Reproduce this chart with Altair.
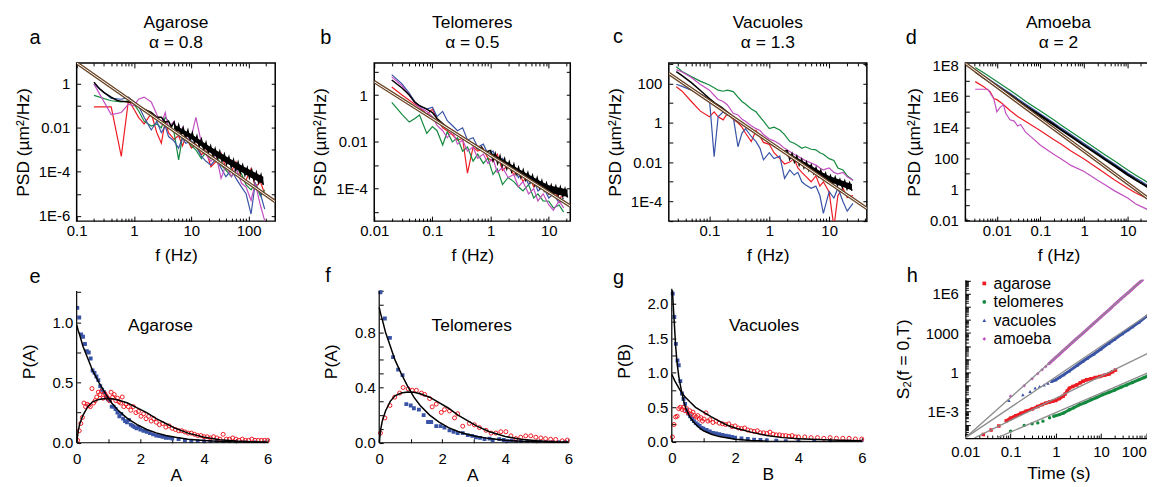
import math
import altair as alt
import pandas as pd

FONT = "Liberation Sans"
RED = "#ed1c24"
GREEN = "#13893e"
BLUE = "#3953a6"
MAGENTA = "#c24fc0"
BROWN = "#6b4627"
GRAY = "#8c8c8c"

SERIES = ["red", "green", "blue", "magenta"]
SERIES_COLORS = [RED, GREEN, BLUE, MAGENTA]

# ---------------- (a) Agarose PSD ----------------
A_F = [0.2, 0.4, 0.6, 0.8, 1, 1.2, 1.5, 2, 2.5, 3, 3.5, 4, 5, 6, 7, 8, 10, 12, 15, 18,
       22, 27, 33, 40, 50, 60, 75, 90, 110, 130, 160, 190]
A_RED = [0.09, 0.09, 5e-4, 0.18, 0.07, 0.03, 0.015, 0.045, 0.006, 0.002, 0.02, 0.006, 0.003,
         0.0045, 0.0015, 0.004, 0.0012, 0.0018, 6e-4, 9e-4, 1.7e-4, 3e-4, 6.8e-4, 1.5e-4,
         1e-4, 2.8e-4, 5e-5, 4.2e-5, 1.4e-4, 2e-5, 3.5e-5, 1e-5]
A_GREEN = [0.3, 0.17, 0.15, 0.17, 0.12, 0.06, 0.02, 0.012, 0.015, 0.01, 0.03, 0.02, 0.006,
           3.5e-4, 0.004, 0.0035, 0.0015, 0.001, 4e-4, 8e-4, 4e-4, 6e-4, 2e-4, 1.2e-4, 6e-5,
           1.5e-4, 8e-5, 2.5e-5, 1.5e-5, 3e-5, 8e-6, 1.5e-5]
A_BLUE = [1.0, 0.22, 0.2, 0.25, 0.15, 0.1, 0.03, 0.008, 0.02, 0.006, 0.012, 0.004, 0.0025,
          0.0012, 0.0035, 0.002, 0.0025, 0.0015, 5e-4, 3e-4, 2e-4, 4e-4, 1.5e-4, 6e-5, 1.2e-4,
          5e-5, 2e-5, 1e-5, 1.2e-6, 3e-5, 1e-5, 2e-6]
A_MAGENTA = [1.0, 0.04, 0.05, 0.12, 0.1, 0.2, 0.25, 0.15, 0.04, 0.015, 0.05, 0.01, 0.02, 0.004,
             0.01, 0.003, 0.004, 0.03, 0.002, 6e-4, 3e-4, 6e-4, 5e-5, 2e-4, 6e-5, 1.5e-4, 3e-5,
             2e-5, 5e-6, 3e-5, 3e-6, 6e-7]
A_BLACK_F = [0.2, 0.25, 0.3, 0.4, 0.5, 0.6, 0.8, 1, 1.2, 1.5, 2, 2.5, 3, 3.5, 4, 4.5,
             5, 5.5, 6, 6.6, 7.2, 7.9, 8.7, 9.5, 10.4, 11.4, 12.5, 13.7, 15, 16.5, 18, 19.8,
             21.7, 23.8, 26, 28.5, 31.3, 34.3, 37.6, 41.2, 45.2, 49.5, 54.3, 59.5, 65.3, 71.6,
             78.5, 86, 94.3, 103, 113, 124, 136, 149, 164, 180]
A_BLACK = [1.2, 0.6, 0.4, 0.25, 0.18, 0.16, 0.15, 0.14, 0.1, 0.07, 0.05, 0.03, 0.03, 0.018,
           0.02, 0.011,
           0.018, 0.0062, 0.0135, 0.0047, 0.0102, 0.0035, 0.0078, 0.0027, 0.0059, 0.002,
           0.0042, 0.0014, 0.003, 0.001, 0.0021, 7.2e-4, 0.0015, 5.2e-4, 0.0011, 4e-4, 8.5e-4,
           3e-4, 6.3e-4, 2.2e-4, 4.7e-4, 1.6e-4, 3.5e-4, 1.2e-4, 2.7e-4, 9.3e-5, 2e-4, 7e-5,
           1.5e-4, 5.4e-5, 1.2e-4, 4.2e-5, 9.3e-5, 3.2e-5, 7.2e-5, 2.5e-5]
# dense core of the black high-frequency band (lower / upper edge)
A_BAND_F = [5, 7, 10, 14, 20, 28, 40, 56, 80, 110, 150, 180]
A_BAND_LO = [0.0089, 0.0052, 0.003, 0.0016, 8.1e-4, 4.6e-4, 2.6e-4, 1.5e-4, 8.7e-5, 5.3e-5,
             3.5e-5, 2.7e-5]
A_BAND_HI = [0.0141, 0.0087, 0.0052, 0.0029, 0.00155, 9e-4, 5.1e-4, 3.05e-4, 1.8e-4, 1.14e-4,
             7.6e-5, 5.9e-5]
A_FIT_F = [0.1, 290]
A_FIT = [9, 4.4e-6]

# ---------------- (b) Telomeres PSD ----------------
B_F = [0.02, 0.03, 0.04, 0.05, 0.06, 0.08, 0.1, 0.12, 0.15, 0.18, 0.22, 0.27, 0.33, 0.4, 0.5,
       0.6, 0.75, 0.9, 1.1, 1.3, 1.6, 2, 2.5, 3, 3.6, 4.5, 5.5, 6.5, 8, 10, 12, 15, 18]
B_RED = [2.2, 1.0, 0.6, 0.4, 0.3, 0.15, 0.25, 0.1, 0.04, 0.03, 0.02, 0.012, 0.014, 4.6e-4,
         0.006, 0.004, 0.005, 0.002, 0.0015, 0.003, 6e-4, 0.001, 4e-4, 6e-4, 2e-4, 4e-4,
         1.2e-4, 2e-4, 1e-4, 6e-5, 8e-5, 4e-5, 5e-5]
B_GREEN = [0.49, 0.15, 0.07, 0.1, 0.14, 0.023, 0.045, 0.03, 0.0074, 0.027, 0.01, 0.015, 0.004,
           0.006, 0.0015, 0.003, 0.0012, 0.002, 4e-4, 7e-4, 1.5e-4, 3e-4, 2e-4, 1.2e-4, 8e-5,
           1.5e-4, 4e-5, 6e-5, 3e-5, 2.9e-5, 1.5e-5, 2e-5, 1e-5]
B_BLUE = [7.5, 3, 1.2, 0.5, 0.35, 0.25, 0.3, 0.12, 0.2, 0.08, 0.05, 0.03, 0.04, 0.012, 0.015,
          0.006, 0.008, 0.003, 0.004, 0.0015, 0.002, 8e-4, 0.001, 3e-4, 5e-4, 1.5e-4, 2.5e-4,
          8e-5, 1.2e-4, 4e-5, 6e-5, 2.5e-5, 4e-5]
B_MAGENTA = [6, 2.5, 1, 0.45, 0.3, 0.2, 0.12, 0.05, 0.03, 0.015, 0.03, 0.008, 0.012, 0.004,
             0.006, 0.002, 0.003, 0.0012, 0.002, 5e-4, 8e-4, 3e-4, 4e-4, 1.2e-4, 2e-4, 6e-5,
             1e-4, 3e-5, 6e-5, 2e-5, 1.2e-5, 3e-5, 1.5e-5]
B_BLACK_F = [0.02, 0.03, 0.04, 0.05, 0.06, 0.08, 0.1, 0.12, 0.15, 0.18, 0.22, 0.27, 0.33, 0.4,
             0.5, 0.6, 0.7, 0.8, 0.9,
             1, 1.1, 1.2, 1.32, 1.45, 1.58, 1.74, 1.9, 2.09, 2.29, 2.51, 2.75, 3.02, 3.31, 3.63,
             3.98, 4.37, 4.79, 5.25, 5.75, 6.31, 6.92, 7.59, 8.32, 9.12, 10, 11, 12, 13.2,
             14.5, 15.8, 17.4, 19, 21]
B_BLACK = [4.4, 2, 1, 0.5, 0.35, 0.25, 0.18, 0.1, 0.06, 0.04, 0.03, 0.02, 0.015, 0.01, 0.008,
           0.005, 0.006, 0.0035, 0.004,
           0.0043, 0.0016, 0.0032, 0.0012, 0.0025, 9.3e-4, 0.0019, 7.1e-4, 0.0014, 5.4e-4,
           0.0011, 4.1e-4, 8.1e-4, 3.1e-4, 6.3e-4, 2.4e-4, 4.8e-4, 1.9e-4, 3.7e-4, 1.4e-4,
           2.9e-4, 1.1e-4, 2.2e-4, 8.5e-5, 1.7e-4, 6.6e-5, 1.4e-4, 5.9e-5, 1.26e-4, 5.2e-5,
           1.15e-4, 4.7e-5, 1e-4, 4.2e-5]
B_BAND_F = [1, 2, 3, 5, 7, 10, 14, 21]
B_BAND_LO = [0.0022, 7.8e-4, 4.1e-4, 1.95e-4, 1.17e-4, 7.1e-5, 5.7e-5, 4.4e-5]
B_BAND_HI = [0.0035, 0.0013, 7.1e-4, 3.5e-4, 2.2e-4, 1.4e-4, 1.16e-4, 9.1e-5]
B_FIT_F = [0.01, 23.4]
B_FIT = [3.7, 1.8e-5]

# ---------------- (c) Vacuoles PSD ----------------
C_F = [0.028, 0.035, 0.05, 0.07, 0.1, 0.12, 0.14, 0.17, 0.2, 0.25, 0.3, 0.35, 0.4, 0.5, 0.6,
       0.7, 0.8, 1, 1.2, 1.5, 1.8, 2.2, 2.6, 3, 3.5, 4, 5, 6, 7, 8, 10, 12, 14, 17, 20, 25]
C_RED = [68, 40, 12, 4, 2, 3.6, 2, 1.4, 3, 1.5, 1, 0.6, 0.3, 0.11, 0.4, 0.2, 0.1, 0.08, 0.03,
         0.015, 0.008, 0.01, 0.015, 0.005, 0.003, 0.002, 0.001, 0.002, 6e-4, 0.001, 3e-4,
         5e-6, 2e-4, 4.7e-4, 1.6e-4, 2e-4]
C_GREEN = [700, 400, 220, 130, 83, 60, 45, 40, 45, 38, 20, 12, 9, 5, 3.6, 2, 1.2, 0.5, 0.6,
           0.43, 0.25, 0.11, 0.09, 0.07, 0.05, 0.06, 0.045, 0.042, 0.03, 0.025, 0.015, 0.012,
           0.005, 0.004, 0.002, 0.0012]
C_BLUE = [90, 70, 45, 30, 17, 0.019, 2, 3.6, 2.5, 2, 0.06, 0.3, 0.5, 0.2, 0.11, 0.05, 0.013,
          0.03, 0.015, 0.02, 0.0015, 0.004, 0.0022, 0.003, 0.001, 7e-4, 4.7e-4, 6e-4, 2e-4,
          2.5e-5, 3.2e-4, 1.5e-4, 4.7e-4, 1e-4, 3.2e-5, 8e-5]
C_MAGENTA = [500, 380, 200, 90, 45, 25, 15, 12, 8, 3, 2.5, 1.5, 1.2, 0.7, 0.5, 0.4, 0.25, 0.15,
             0.12, 0.08, 0.05, 0.035, 0.025, 0.02, 0.015, 0.012, 0.009, 0.007, 0.005, 0.004,
             0.005, 0.003, 0.0025, 0.003, 0.0018, 0.0012]
C_BLACK_F = [0.028, 0.035, 0.05, 0.07, 0.1, 0.13, 0.16, 0.2, 0.25, 0.3, 0.4, 0.5, 0.6, 0.8, 1,
             1.2, 1.4, 1.7,
             2, 2.19, 2.4, 2.63, 2.88, 3.16, 3.47, 3.8, 4.17, 4.57, 5.01, 5.5, 6.03, 6.61, 7.24,
             7.94, 8.71, 9.55, 10.5, 11.5, 12.6, 13.8, 15.1, 16.6, 18.2, 19.9, 21.9, 24]
C_BLACK = [400, 250, 110, 45, 17, 9, 6, 3.5, 2, 1.3, 0.7, 0.45, 0.3, 0.16, 0.1, 0.065, 0.05,
           0.035,
           0.038, 0.014, 0.0275, 0.0102, 0.02, 0.0072, 0.014, 0.0052, 0.0102, 0.0038, 0.0072,
           0.0027, 0.0052, 0.0019, 0.0038, 0.0014, 0.0027, 0.001, 0.002, 7.9e-4, 0.0017,
           6.5e-4, 0.0013, 5.2e-4, 0.0011, 4.3e-4, 8.9e-4, 3.5e-4]
C_BAND_F = [2, 3, 5, 7, 10, 14, 20, 24]
C_BAND_LO = [0.02, 0.0093, 0.0037, 0.00195, 0.001, 6.9e-4, 4.5e-4, 3.6e-4]
C_BAND_HI = [0.0316, 0.0155, 0.0065, 0.0035, 0.00195, 0.0014, 9.2e-4, 7.6e-4]
C_FIT_F = [0.021, 42.6]
C_FIT = [320, 4.4e-5]

# ---------------- (d) Amoeba PSD ----------------
D_F = [0.0032, 0.005, 0.01, 0.02, 0.03, 0.05, 0.1, 0.2, 0.3, 0.5, 1, 2, 3, 5, 10, 15, 20, 25, 30]
D_GREEN = [7e7, 3.2e7, 8.8e6, 2.4e6, 1.1e6, 4e5, 1.1e5, 3e4, 1.36e4, 5.2e3, 1.4e3, 370, 170,
           66, 17.5, 8.5, 5.2, 3.6, 2.4]
D_BLUE = [4.9e7, 2.1e7, 5.7e6, 1.56e6, 7e5, 2.6e5, 7.2e4, 1.95e4, 8.8e3, 3.4e3, 900, 242, 110,
          43, 11.3, 5.5, 3.4, 2.3, 1.7]
D_BLACK = [3.8e7, 1.6e7, 4.4e6, 1.2e6, 5.4e5, 2e5, 5.5e4, 1.5e4, 6.8e3, 2.6e3, 690, 186, 85, 33,
           8.7, 4.2, 2.6, 1.8, 1.3]
D_RED_F = [0.0032, 0.005, 0.007, 0.0085, 0.01, 0.013, 0.02, 0.03, 0.05, 0.1, 0.2, 0.3, 0.5, 1,
           2, 3, 5, 10, 15, 20, 25, 30]
D_RED = [8.7e6, 4e6, 2e6, 7e5, 6e5, 3.5e5, 1.2e5, 5e4, 2e4, 6e3, 1.6e3, 800, 300, 90, 24, 11,
         4, 1.2, 0.6, 0.4, 0.3, 0.24]
D_MAGENTA_F = [0.0032, 0.0062, 0.0085, 0.01, 0.012, 0.0142, 0.016, 0.02, 0.025, 0.03, 0.035,
               0.045, 0.06, 0.1, 0.2, 0.3, 0.5, 1, 2, 3, 5, 10, 15, 20, 25, 30]
D_MAGENTA = [2.8e6, 2.8e6, 7e5, 1e5, 2e5, 2.8e5, 8e4, 3e4, 2.5e4, 1.2e4, 1.5e4, 5e3, 2.5e3, 700,
             180, 90, 35, 14, 4, 2, 0.8, 0.28, 0.12, 0.08, 0.06, 0.047]
D_FIT_F = [0.0019, 35]
D_FIT = [1.3e8, 0.18]

# ---------------- (e) Agarose distributions ----------------
E_BLUE_A = [0.02, 0.08, 0.14, 0.2, 0.26, 0.32, 0.38, 0.44, 0.5, 0.56, 0.62, 0.68, 0.74, 0.8,
            0.86, 0.92, 0.98, 1.04, 1.1, 1.16, 1.22, 1.28, 1.34, 1.4, 1.46, 1.52, 1.58, 1.64,
            1.7, 1.76, 1.82, 1.88, 1.94, 2.0, 2.1, 2.2, 2.3, 2.4, 2.5, 2.6, 2.7, 2.8, 2.9, 3.0,
            3.2, 3.4, 3.6, 3.8, 4.0, 4.2, 4.4, 4.6, 4.8, 5.0, 5.3, 5.6, 5.9]
E_BLUE_P = [1.12, 1.04, 0.9, 0.88, 0.82, 0.76, 0.75, 0.7, 0.6, 0.58, 0.55, 0.52, 0.47, 0.44,
            0.42, 0.38, 0.36, 0.35, 0.3, 0.3, 0.28, 0.25, 0.22, 0.24, 0.2, 0.18, 0.17, 0.19,
            0.15, 0.14, 0.13, 0.12, 0.13, 0.11, 0.1, 0.09, 0.08, 0.07, 0.06, 0.055, 0.05, 0.04,
            0.04, 0.035, 0.03, 0.02, 0.015, 0.012, 0.01, 0.008, 0.006, 0.005, 0.004, 0.003,
            0.003, 0.002, 0.002]
E_RED_A = [0.03, 0.08, 0.13, 0.18, 0.23, 0.28, 0.33, 0.38, 0.43, 0.48, 0.53, 0.58, 0.63, 0.68,
           0.73, 0.78, 0.83, 0.88, 0.93, 0.98, 1.03, 1.08, 1.13, 1.18, 1.23, 1.28, 1.33, 1.38,
           1.43, 1.48, 1.55, 1.62, 1.7, 1.78, 1.86, 1.94, 2.02, 2.1, 2.18, 2.26, 2.34, 2.42,
           2.5, 2.6, 2.7, 2.8, 2.9, 3.0, 3.1, 3.2, 3.3, 3.4, 3.5, 3.6, 3.7, 3.8, 3.9, 4.0, 4.1,
           4.2, 4.3, 4.4, 4.5, 4.6, 4.7, 4.8, 4.9, 5.0, 5.1, 5.2, 5.3, 5.4, 5.5, 5.6, 5.7, 5.8,
           5.9, 6.0]
E_RED_P = [0.02, 0.1, 0.16, 0.21, 0.33, 0.3, 0.32, 0.31, 0.3, 0.45, 0.33, 0.35, 0.38, 0.42, 0.4,
           0.43, 0.37, 0.41, 0.39, 0.37, 0.35, 0.42, 0.38, 0.4, 0.35, 0.37, 0.34, 0.33, 0.38,
           0.3, 0.32, 0.3, 0.27, 0.3, 0.25, 0.26, 0.22, 0.24, 0.2, 0.22, 0.18, 0.2, 0.17, 0.15,
           0.16, 0.13, 0.14, 0.12, 0.11, 0.1, 0.1, 0.09, 0.08, 0.08, 0.07, 0.06, 0.06, 0.05,
           0.05, 0.04, 0.05, 0.04, 0.03, 0.07, 0.03, 0.03, 0.04, 0.03, 0.02, 0.03, 0.02, 0.02,
           0.03, 0.02, 0.02, 0.02, 0.02, 0.02]

# theory curves shared by (e) and (f)
TH_A = [0, 0.05, 0.1, 0.2, 0.35, 0.5, 0.7, 0.9, 1.1, 1.3, 1.6, 1.9, 2.2, 2.5, 2.8, 3.1, 3.5, 4,
        4.5, 5, 5.5, 6]
TH_RAYLEIGH = [0, 0.1, 0.16, 0.23, 0.3, 0.34, 0.36, 0.367, 0.365, 0.355, 0.33, 0.29, 0.25, 0.2,
               0.16, 0.12, 0.08, 0.045, 0.025, 0.014, 0.008, 0.005]
TH_EXP = [0.98, 0.93, 0.89, 0.8, 0.7, 0.6, 0.5, 0.41, 0.33, 0.27, 0.2, 0.15, 0.11, 0.082, 0.06,
          0.045, 0.03, 0.018, 0.011, 0.007, 0.004, 0.0025]

# ---------------- (f) Telomeres distributions ----------------
F_BLUE_A = [0.04, 0.18, 0.34, 0.44, 0.6, 0.74, 0.86, 1.0, 1.1, 1.26, 1.41, 1.55, 1.65, 1.81,
            1.95, 2.07, 2.23, 2.36, 2.49, 2.65, 2.81, 2.95, 3.07, 3.2, 3.34, 3.5, 3.6, 3.81,
            3.95, 4.07, 4.2, 4.34, 4.5, 4.7, 4.9, 5.1, 5.3, 5.5, 5.7, 5.9]
F_BLUE_P = [1.09, 0.9, 0.76, 0.62, 0.53, 0.49, 0.28, 0.27, 0.25, 0.24, 0.2, 0.15, 0.15, 0.12,
            0.12, 0.11, 0.09, 0.08, 0.07, 0.07, 0.055, 0.05, 0.04, 0.035, 0.026, 0.03, 0.02,
            0.026, 0.02, 0.012, 0.015, 0.007, 0.01, 0.008, 0.006, 0.007, 0.005, 0.006, 0.004,
            0.005]
F_RED_A = [0.04, 0.18, 0.34, 0.49, 0.65, 0.76, 0.92, 1.05, 1.18, 1.34, 1.44, 1.6, 1.68, 1.81,
           1.97, 2.07, 2.23, 2.39, 2.49, 2.65, 2.86, 3.02, 3.18, 3.39, 3.55, 3.7, 3.86, 4.02,
           4.18, 4.34, 4.49, 4.65, 4.81, 4.97, 5.13, 5.28, 5.44, 5.6, 5.81, 5.97]
F_RED_P = [0.07, 0.18, 0.27, 0.33, 0.36, 0.4, 0.39, 0.38, 0.38, 0.36, 0.35, 0.32, 0.26, 0.28,
           0.22, 0.24, 0.23, 0.18, 0.21, 0.12, 0.14, 0.13, 0.11, 0.09, 0.07, 0.07, 0.08, 0.08,
           0.05, 0.03, 0.04, 0.05, 0.05, 0.04, 0.035, 0.03, 0.025, 0.024, 0.014, 0.019]

# ---------------- (g) Vacuoles distributions ----------------
G_BLUE_B = [0.03, 0.08, 0.13, 0.18, 0.22, 0.27, 0.32, 0.37, 0.42, 0.47, 0.52, 0.58, 0.64, 0.7,
            0.76, 0.82, 0.88, 0.94, 1.0, 1.1, 1.2, 1.3, 1.4, 1.5, 1.6, 1.7, 1.8, 1.9, 2.0, 2.2,
            2.4, 2.6, 2.8, 3.0, 3.3, 3.6, 4.0, 4.5, 5.0, 5.5, 6.0]
G_BLUE_P = [2.15, 1.81, 1.42, 1.18, 1.11, 0.88, 0.7, 0.62, 0.55, 0.46, 0.41, 0.37, 0.33, 0.3,
            0.27, 0.25, 0.23, 0.2, 0.19, 0.17, 0.15, 0.13, 0.12, 0.11, 0.1, 0.09, 0.08, 0.07,
            0.06, 0.05, 0.04, 0.03, 0.025, 0.02, 0.015, 0.01, 0.008, 0.005, 0.004, 0.003, 0.002]
G_RED_B = [0.02, 0.07, 0.12, 0.17, 0.22, 0.27, 0.32, 0.37, 0.42, 0.47, 0.52, 0.57, 0.62, 0.67,
           0.72, 0.77, 0.82, 0.87, 0.92, 0.97, 1.02, 1.08, 1.14, 1.2, 1.3, 1.4, 1.5, 1.6, 1.7,
           1.8, 1.9, 2.0, 2.1, 2.2, 2.3, 2.4, 2.5, 2.6, 2.7, 2.8, 2.9, 3.0, 3.1, 3.2, 3.3, 3.4,
           3.5, 3.6, 3.7, 3.8, 3.9, 4.0, 4.2, 4.4, 4.6, 4.8, 5.0, 5.2, 5.4, 5.6, 5.8, 6.0]
G_RED_P = [0.07, 0.25, 0.36, 0.37, 0.48, 0.5, 0.47, 0.5, 0.45, 0.48, 0.42, 0.45, 0.4, 0.43,
           0.38, 0.36, 0.38, 0.33, 0.35, 0.3, 0.33, 0.42, 0.3, 0.32, 0.28, 0.3, 0.27, 0.26,
           0.25, 0.26, 0.22, 0.23, 0.2, 0.19, 0.2, 0.17, 0.16, 0.15, 0.16, 0.13, 0.13, 0.12,
           0.14, 0.11, 0.1, 0.1, 0.09, 0.09, 0.08, 0.09, 0.07, 0.07, 0.07, 0.06, 0.06, 0.05,
           0.06, 0.05, 0.05, 0.05, 0.04, 0.04]
G_STEEP_B = [0.02, 0.05, 0.08, 0.12, 0.16, 0.22, 0.3, 0.37, 0.45, 0.57, 0.7, 0.85, 1.0, 1.25,
             1.5, 2.0, 2.5, 3.0, 4.0, 5.0, 6.0]
G_STEEP_P = [2.2, 1.95, 1.72, 1.4, 1.18, 0.95, 0.75, 0.6, 0.48, 0.36, 0.28, 0.21, 0.16, 0.11,
             0.075, 0.035, 0.018, 0.009, 0.003, 0.001, 0.0005]
G_SLOW_B = [0, 0.1, 0.26, 0.4, 0.57, 0.75, 1.0, 1.25, 1.5, 1.75, 2.0, 2.5, 3.0, 3.5, 4.0, 5.0,
            6.0]
G_SLOW_P = [0.98, 0.88, 0.75, 0.66, 0.58, 0.5, 0.43, 0.36, 0.3, 0.24, 0.2, 0.14, 0.09, 0.06,
            0.045, 0.025, 0.015]

# ---------------- (h) S2(f=0,T) ----------------
H_NAMES = ["agarose", "telomeres", "vacuoles", "amoeba"]
H_SHAPES = ["square", "circle", "triangle-up", "diamond"]
H_AGAROSE_T = [0.025, 0.037, 0.055, 0.08, 0.1, 0.13, 0.17, 0.22, 0.3, 0.4, 0.5, 0.6, 0.73, 0.85,
               1.0, 1.2, 1.45, 1.6, 1.8, 2.0, 2.4, 2.9, 3.5, 4, 4.8, 6, 7.5, 9.4, 12, 15, 18, 21]
H_AGAROSE = [1.8e-5, 4e-5, 8e-5, 2e-4, 3.2e-4, 5e-4, 7.5e-4, 0.0011, 0.0016, 0.0025, 0.0035,
             0.0045, 0.0055, 0.0063, 0.0072, 0.01, 0.015, 0.022, 0.038, 0.063, 0.085, 0.11,
             0.16, 0.21, 0.27, 0.33, 0.4, 0.48, 0.6, 0.75, 1.1, 1.5]
H_TELOMERES_T = [0.1, 0.2, 0.3, 0.4, 0.52, 0.73, 0.9, 1.2, 1.5, 2, 2.5, 3.4, 4.5, 6, 8, 11, 15,
                 20, 28, 37, 50, 70, 90, 110, 120, 128]
H_TELOMERES = [3.3e-5, 9e-5, 1.2e-4, 1.4e-4, 1.9e-4, 3.4e-4, 4.5e-4, 6e-4, 8e-4, 0.0014, 0.002,
               0.0035, 0.005, 0.008, 0.012, 0.02, 0.03, 0.045, 0.075, 0.11, 0.17, 0.28, 0.4,
               0.55, 0.8, 1.4]
H_VACUOLES_T = [0.092, 0.187, 0.27, 0.35, 0.44, 0.55, 0.67, 0.8, 1.0, 1.2, 1.5, 2, 3, 4, 5, 7,
                10, 15, 20, 30, 40, 50, 70, 100, 130]
H_VACUOLES = [0.0072, 0.02, 0.035, 0.063, 0.085, 0.11, 0.15, 0.2, 0.27, 0.4, 0.65, 1.3, 3.5, 7,
              12, 25, 60, 170, 330, 900, 1800, 3000, 7000, 1.8e4, 3.5e4]
H_AMOEBA_T = [0.1, 0.2, 0.3, 0.4, 0.5, 0.6, 0.7, 0.8, 0.9, 1, 1.2, 1.4, 1.7, 2, 2.4, 2.8, 3.3,
              4, 5, 6, 7, 8, 10, 12, 14, 17, 20, 24, 28, 33, 40, 47, 55, 65, 75, 85]
H_AMOEBA = [0.015, 0.095, 0.33, 0.8, 1.6, 2.8, 4.5, 7, 10, 14, 24, 40, 72, 120, 210, 340, 560,
            1000, 2000, 3500, 5700, 8500, 1.7e4, 3e4, 4.8e4, 8.8e4, 1.5e5, 2.6e5, 4.2e5, 6.8e5,
            1.2e6, 2e6, 3.3e6, 5.5e6, 8.5e6, 1.25e7]
# power-law guide lines (start and end points)
H_FIT_AGAROSE_T = [0.016, 131]
H_FIT_AGAROSE = [1e-5, 39]
H_FIT_TELOMERES_T = [0.05, 131]
H_FIT_TELOMERES = [1e-5, 1.2]
H_FIT_VACUOLES_T = [0.01, 131]
H_FIT_VACUOLES = [1e-5, 3.9e4]
H_FIT_AMOEBA_T = [0.01, 100]
H_FIT_AMOEBA = [1e-5, 2.1e7]
H_BAND_START = {"agarose": 0.08, "telomeres": 0.9, "vacuoles": 0.8, "amoeba": 0.65}

# ---------------- helpers ----------------
MAJOR_LOG = "abs(log(datum.value) / LN10 - round(log(datum.value) / LN10)) < 0.001"
LOG_LABEL = ("datum.value >= 10000 || datum.value < 0.005 ? '1E' + round(log(datum.value) / LN10)"
             " : format(datum.value, '~g')")


def log_ticks(lo, hi, minor):
    out = []
    for e in range(math.floor(math.log10(lo)), math.ceil(math.log10(hi)) + 1):
        for m in (range(1, 10) if minor else (1,)):
            v = float(f"{m}e{e}")
            if lo * 0.999 <= v <= hi * 1.001:
                out.append(v)
    return out


def label_axis(orient, values, title, pad, tpad, expr=None, fmt=None, domain=False, offset=0,
               align=None):
    kw = dict(orient=orient, values=values, title=title, ticks=False, domain=domain, grid=False,
              labelPadding=pad, titlePadding=tpad, labelFlush=False, labelOverlap=False,
              offset=offset)
    if expr:
        kw["labelExpr"] = expr
    if fmt:
        kw["format"] = fmt
    if align is not None:
        kw["labelAlign"] = align
    if domain:
        kw["domainColor"] = "black"
        kw["domainWidth"] = 1.2
    return alt.Axis(**kw)


def tick_axis(orient, values, offset, big, small=None, test=None):
    size = big if test is None else {"condition": {"test": test, "value": big}, "value": small}
    return alt.Axis(orient=orient, values=values, offset=offset, labels=False, domain=False,
                    grid=False, ticks=True, tickSize=size, tickColor="black", tickWidth=1,
                    title=None)


def text_layer(txt, x, y, size, align="left", baseline="alphabetic"):
    return alt.Chart(pd.DataFrame({"t": [txt]})).mark_text(
        font=FONT, fontSize=size, align=align, baseline=baseline, color="black"
    ).encode(text="t:N", x=alt.value(x), y=alt.value(y))


def psd_panel(letter, name, alpha, xdom, ydom, w, h, xlab, ylab, series, black, fit, lpos,
              band=None, black_width=1.5):
    xs = alt.Scale(type="log", domain=xdom, nice=False)
    ys = alt.Scale(type="log", domain=ydom, nice=False)
    xt = log_ticks(xdom[0], xdom[1], True)
    yt = log_ticks(ydom[0], ydom[1], False)
    rows = [{"f": f, "p": p, "s": s} for s, fs, ps in series for f, p in zip(fs, ps)]
    col = alt.Chart(pd.DataFrame(rows)).mark_line(clip=True, strokeWidth=1.2).encode(
        x=alt.X("f:Q", scale=xs, axis=label_axis("bottom", xlab, "f (Hz)", 2, 9, expr=LOG_LABEL)),
        y=alt.Y("p:Q", scale=ys,
                axis=label_axis("left", ylab, "PSD (µm²/Hz)", 7, 6, expr=LOG_LABEL)),
        color=alt.Color("s:N", scale=alt.Scale(domain=SERIES, range=SERIES_COLORS), legend=None),
    )
    layers = [col]
    if band is not None:
        layers.append(
            alt.Chart(pd.DataFrame({"f": band[0], "lo": band[1], "hi": band[2]})).mark_area(
                clip=True, color="black", opacity=1
            ).encode(
                x=alt.X("f:Q", scale=xs, axis=None),
                y=alt.Y("lo:Q", scale=ys, axis=None),
                y2="hi:Q",
            )
        )
    blk = alt.Chart(pd.DataFrame({"f": black[0], "p": black[1]})).mark_line(
        clip=True, color="black", strokeWidth=black_width
    ).encode(
        x=alt.X("f:Q", scale=xs, axis=tick_axis("top", xt, -h, 5, 3, MAJOR_LOG)),
        y=alt.Y("p:Q", scale=ys, axis=tick_axis("right", yt, -w, 4)),
    )
    fdf = pd.DataFrame({"f": fit[0], "p": fit[1]})
    fb = alt.Chart(fdf).mark_line(clip=True, color=BROWN, strokeWidth=3.4).encode(
        x=alt.X("f:Q", scale=xs, axis=tick_axis("bottom", xt, -h, 5, 3, MAJOR_LOG)),
        y=alt.Y("p:Q", scale=ys, axis=tick_axis("left", yt, -w, 4)),
    )
    fw = alt.Chart(fdf).mark_line(clip=True, color="white", strokeWidth=1).encode(
        x=alt.X("f:Q", scale=xs, axis=None), y=alt.Y("p:Q", scale=ys, axis=None)
    )
    layers += [blk, fb, fw,
               text_layer(letter, lpos[0], lpos[1], 20),
               text_layer(name, w / 2, -35, 17.5, "center"),
               text_layer(f"α = {alpha}", w / 2, -14.5, 17.5, "center")]
    return alt.layer(*layers).resolve_axis(x="independent", y="independent").properties(
        width=w, height=h, view=alt.ViewBackground(stroke="black", strokeWidth=1.5)
    )


def dist_panel(letter, label, xtitle, ytitle, xdom, w, h, shift, ymax, ytop, ylabels, ystep,
               blue, red, curves, lpos, tpos):
    xs = alt.Scale(domain=xdom, nice=False, zero=False)
    ys = alt.Scale(domain=[0, ymax], nice=False, zero=False)
    yticks = [round(k * ystep, 4) for k in range(int(ytop / ystep + 1e-6) + 1)]
    xticks = [0, 1, 2, 3, 4, 5, 6]
    bl = alt.Chart(pd.DataFrame({"a": blue[0], "p": blue[1]})).mark_square(
        size=15, color=BLUE, opacity=1, clip=True
    ).encode(
        x=alt.X("a:Q", scale=xs, axis=label_axis("bottom", [0, 2, 4, 6], xtitle, 9, 0, fmt="d")),
        y=alt.Y("p:Q", scale=ys,
                axis=label_axis("left", ylabels, ytitle, 4, 14, fmt=".1f", offset=-shift)),
    )
    rd = alt.Chart(pd.DataFrame({"a": red[0], "p": red[1]})).mark_point(
        shape="circle", size=16, color=RED, filled=False, strokeWidth=1, opacity=1, clip=True
    ).encode(
        x=alt.X("a:Q", scale=xs, axis=tick_axis("top", xticks, -h, 4)),
        y=alt.Y("p:Q", scale=ys, axis=tick_axis("right", yticks, -(w - shift), 4)),
    )
    crows = [{"a": a, "p": p, "k": k} for k, (aa, pp) in enumerate(curves) for a, p in zip(aa, pp)]
    cv = alt.Chart(pd.DataFrame(crows)).mark_line(color="black", strokeWidth=1.5, clip=True).encode(
        x=alt.X("a:Q", scale=xs, axis=None), y=alt.Y("p:Q", scale=ys, axis=None), detail="k:N"
    )
    ax = alt.Chart(pd.DataFrame({"x0": [0], "x1": [6], "y0": [0], "y1": [ytop]}))
    xr = ax.mark_rule(color="black", strokeWidth=1.2).encode(
        x=alt.X("x0:Q", scale=xs, axis=None), x2="x1:Q", y=alt.Y("y0:Q", scale=ys, axis=None)
    )
    yr = ax.mark_rule(color="black", strokeWidth=1.2).encode(
        x=alt.X("x0:Q", scale=xs, axis=None), y=alt.Y("y0:Q", scale=ys, axis=None), y2="y1:Q"
    )
    layers = [bl, rd, cv, xr, yr,
              text_layer(label, tpos[0], tpos[1], 17.5, "center"),
              text_layer(letter, lpos[0], lpos[1], 20)]
    return alt.layer(*layers).resolve_axis(x="independent", y="independent").properties(
        width=w, height=h
    )


def h_panel(w, h):
    xs = alt.Scale(type="log", domain=[0.01, 131], nice=False)
    ys = alt.Scale(type="log", domain=[9.7e-6, 1.15e7], nice=False)
    xt = log_ticks(0.01, 131, True)
    yt = log_ticks(9.7e-6, 1.15e7, True)
    data = [("agarose", H_AGAROSE_T, H_AGAROSE), ("telomeres", H_TELOMERES_T, H_TELOMERES),
            ("vacuoles", H_VACUOLES_T, H_VACUOLES), ("amoeba", H_AMOEBA_T, H_AMOEBA)]
    df = pd.DataFrame([{"T": t, "S": v, "s": s} for s, ts, vs in data for t, v in zip(ts, vs)])
    fits = [("agarose", H_FIT_AGAROSE_T, H_FIT_AGAROSE),
            ("telomeres", H_FIT_TELOMERES_T, H_FIT_TELOMERES),
            ("vacuoles", H_FIT_VACUOLES_T, H_FIT_VACUOLES),
            ("amoeba", H_FIT_AMOEBA_T, H_FIT_AMOEBA)]
    fdf = pd.DataFrame([{"T": t, "S": v, "k": s} for s, ts, vs in fits for t, v in zip(ts, vs)])
    cscale = alt.Scale(domain=H_NAMES, range=SERIES_COLORS)
    band_expr = " || ".join(f"(datum.s === '{k}' && datum.T >= {v})"
                            for k, v in H_BAND_START.items())
    # the last tick label sits at the page edge: right-align it so it stays readable
    last_align = {"condition": {"test": "datum.value >= 100", "value": "right"}, "value": "center"}
    band = alt.Chart(df).transform_filter(band_expr).mark_line(strokeWidth=3, clip=True).encode(
        x=alt.X("T:Q", scale=xs, axis=label_axis("bottom", [0.01, 0.1, 1, 10, 100], "Time (s)",
                                                   7, 5, expr=LOG_LABEL, domain=True,
                                                   align=last_align)),
        y=alt.Y("S:Q", scale=ys, axis=label_axis("left", [1e6, 1000, 1, 0.001], "S₂(f = 0,T)",
                                                   7, 13, expr=LOG_LABEL, domain=True)),
        color=alt.Color("s:N", scale=cscale, legend=None),
        detail="s:N",
    )
    pts = alt.Chart(df).mark_point(filled=True, size=12, opacity=1, clip=True).encode(
        x=alt.X("T:Q", scale=xs, axis=tick_axis("top", xt, -h, 5, 3, MAJOR_LOG)),
        y=alt.Y("S:Q", scale=ys, axis=tick_axis("right", yt, -w, 5, 3, MAJOR_LOG)),
        color=alt.Color("s:N", scale=cscale, legend=None),
        shape=alt.Shape("s:N", scale=alt.Scale(domain=H_NAMES, range=H_SHAPES), legend=None),
    )
    fl = alt.Chart(fdf).mark_line(color=GRAY, strokeWidth=1.3, clip=True).encode(
        x=alt.X("T:Q", scale=xs, axis=None), y=alt.Y("S:Q", scale=ys, axis=None), detail="k:N"
    )
    layers = [band, pts, fl, text_layer("h", -59, 1.7, 20)]
    # legend drawn as marks: one symbol + one label per series, 18.6 px apart
    for i, (name, shape, colr) in enumerate(zip(H_NAMES, H_SHAPES, SERIES_COLORS)):
        yy = 3.6 + 18.6 * i
        layers.append(
            alt.Chart(pd.DataFrame({"s": [name]})).mark_point(
                shape=shape, filled=True, size=14, color=colr, opacity=1
            ).encode(x=alt.value(19), y=alt.value(yy))
        )
        layers.append(text_layer(name, 28.3, yy + 0.5, 16, "left", "middle"))
    return alt.layer(*layers).resolve_axis(x="independent", y="independent").properties(
        width=w, height=h
    )


# column widths (plot areas) -- panels in one column share a width
W1, W2, W3, W4 = 199.5, 197, 199, 187

pa = psd_panel("a", "Agarose", "0.8", [0.1, 290], [5.7e-7, 9], W1, 159,
               [0.1, 1, 10, 100], [1, 0.01, 1e-4, 1e-6],
               [("red", A_F, A_RED), ("green", A_F, A_GREEN), ("blue", A_F, A_BLUE),
                ("magenta", A_F, A_MAGENTA)],
               (A_BLACK_F, A_BLACK), (A_FIT_F, A_FIT), (-47.5, -19.3),
               band=(A_BAND_F, A_BAND_LO, A_BAND_HI))
pb = psd_panel("b", "Telomeres", "0.5", [0.01, 23.4], [4.1e-6, 23.7], W2, 159,
               [0.01, 0.1, 1, 10], [1, 0.01, 1e-4],
               [("red", B_F, B_RED), ("green", B_F, B_GREEN), ("blue", B_F, B_BLUE),
                ("magenta", B_F, B_MAGENTA)],
               (B_BLACK_F, B_BLACK), (B_FIT_F, B_FIT), (-54.3, -19.3),
               band=(B_BAND_F, B_BAND_LO, B_BAND_HI))
pc = psd_panel("c", "Vacuoles", "1.3", [0.021, 42.6], [1e-5, 1100], W3, 159,
               [0.1, 1, 10], [100, 1, 0.01, 1e-4],
               [("red", C_F, C_RED), ("green", C_F, C_GREEN), ("blue", C_F, C_BLUE),
                ("magenta", C_F, C_MAGENTA)],
               (C_BLACK_F, C_BLACK), (C_FIT_F, C_FIT), (-56, -20),
               band=(C_BAND_F, C_BAND_LO, C_BAND_HI))
pd_ = psd_panel("d", "Amoeba", "2", [0.0019, 35], [0.009, 1.4e8], W4, 159,
                [0.01, 0.1, 1, 10], [1e8, 1e6, 1e4, 100, 1, 0.01],
                [("red", D_RED_F, D_RED), ("magenta", D_MAGENTA_F, D_MAGENTA),
                 ("green", D_F, D_GREEN), ("blue", D_F, D_BLUE)],
                (D_F, D_BLACK), (D_FIT_F, D_FIT), (-60, -19.3), black_width=2.2)

pe = dist_panel("e", "Agarose", "A", "P(A)", [0, 6.235], W1, 163.7, 0, 1.353, 1.26,
                [0, 0.5, 1.0], 0.25, (E_BLUE_A, E_BLUE_P), (E_RED_A, E_RED_P),
                [(TH_A, TH_EXP), (TH_A, TH_RAYLEIGH)], (-47.5, 2.7), (84.2, 51))
pf = dist_panel("f", "Telomeres", "A", "P(A)", [-0.158, 6.063], W2, 163.7, 5, 1.18, 1.10,
                [0, 0.4, 0.8], 0.1, (F_BLUE_A, F_BLUE_P), (F_RED_A, F_RED_P),
                [(TH_A, TH_EXP), (TH_A, TH_RAYLEIGH)], (-49.3, 2), (98, 51))
pg = dist_panel("g", "Vacuoles", "B", "P(B)", [-0.094, 6.16], W3, 162.7, 3, 2.35, 2.22,
                [0, 0.5, 1.0, 1.5, 2.0], 0.25, (G_BLUE_B, G_BLUE_P), (G_RED_B, G_RED_P),
                [(G_STEEP_B, G_STEEP_P), (G_SLOW_B, G_SLOW_P)], (-56, 4), (95.7, 51))
ph = h_panel(W4, 159)

chart = alt.concat(
    pa, pb, pc, pd_, pe, pf, pg, ph,
    columns=4, spacing=alt.RowColnumber(row=59, column=99), bounds="flush", align="each",
).resolve_scale(
    color="independent", shape="independent"
).properties(
    # the right edge is cut off at the page border, as in the original figure
    padding={"left": 5, "top": 4, "right": -6.5, "bottom": 0}
).configure(
    font=FONT
).configure_view(
    strokeWidth=0
).configure_axis(
    labelFont=FONT, labelFontSize=15, labelColor="black", titleFont=FONT, titleFontSize=17.5,
    titleFontWeight="normal", titleColor="black"
)

chart.save("out.html", embed_options={"renderer": "svg", "actions": False})
